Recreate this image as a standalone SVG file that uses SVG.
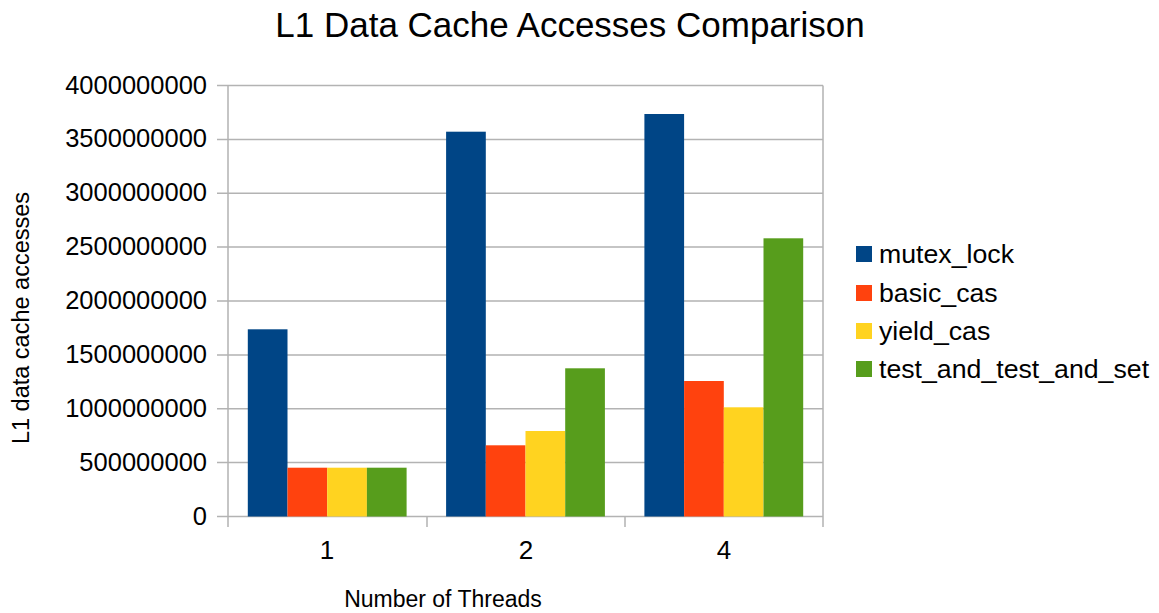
<svg xmlns="http://www.w3.org/2000/svg" width="1159" height="613" viewBox="0 0 1159 613">
<style>
text{font-family:"Liberation Sans",Arial,sans-serif;fill:#000}
.grid{stroke:#b3b3b3;stroke-width:1.5;fill:none}
.ytl{font-size:25.5px;text-anchor:end}
.xtl{font-size:26px;text-anchor:middle}
.leg{font-size:26.7px}
.m{fill:#004586}.b{fill:#ff420e}.y{fill:#ffd320}.g{fill:#579d1c}
</style>
<rect width="1159" height="613" fill="#fff"/>
<text x="570" y="37" font-size="35" text-anchor="middle">L1 Data Cache Accesses Comparison</text>
<g id="grid">
<path class="grid" d="M217 85.5H823M217 139.4H823M217 193.3H823M217 247.1H823M217 301H823M217 354.9H823M217 408.8H823M217 462.6H823M217 516.5H823"/>
<path class="grid" d="M228 85.5V527M823 85.5V527M427 516.5V527M625 516.5V527"/>
</g>
<g id="yticks">
<text class="ytl" x="207" y="93.5">4000000000</text>
<text class="ytl" x="207" y="147.4">3500000000</text>
<text class="ytl" x="207" y="201.3">3000000000</text>
<text class="ytl" x="207" y="255.1">2500000000</text>
<text class="ytl" x="207" y="309">2000000000</text>
<text class="ytl" x="207" y="362.9">1500000000</text>
<text class="ytl" x="207" y="416.8">1000000000</text>
<text class="ytl" x="207" y="470.6">500000000</text>
<text class="ytl" x="207" y="524.5">0</text>
</g>
<g id="bars">
<rect class="m" x="247.8" y="329.3" width="39.7" height="187.2"/>
<rect class="b" x="287.5" y="467.7" width="39.7" height="48.8"/>
<rect class="y" x="327.2" y="467.7" width="39.7" height="48.8"/>
<rect class="g" x="366.9" y="467.7" width="39.7" height="48.8"/>
<rect class="m" x="446.1" y="131.7" width="39.7" height="384.8"/>
<rect class="b" x="485.8" y="445.3" width="39.7" height="71.2"/>
<rect class="y" x="525.5" y="431" width="39.7" height="85.5"/>
<rect class="g" x="565.2" y="368.3" width="39.7" height="148.2"/>
<rect class="m" x="644.4" y="114" width="39.7" height="402.5"/>
<rect class="b" x="684.1" y="381" width="39.7" height="135.5"/>
<rect class="y" x="723.8" y="407.3" width="39.7" height="109.2"/>
<rect class="g" x="763.5" y="238.3" width="39.7" height="278.2"/>
</g>
<g id="xticks">
<text class="xtl" x="327" y="559">1</text>
<text class="xtl" x="526" y="559">2</text>
<text class="xtl" x="724" y="559">4</text>
</g>
<text x="443" y="607" font-size="23" text-anchor="middle">Number of Threads</text>
<text transform="translate(29 318) rotate(-90)" font-size="23.5" text-anchor="middle">L1 data cache accesses</text>
<g id="legend">
<rect class="m" x="856" y="246" width="16" height="16"/>
<text class="leg" x="879" y="263">mutex_lock</text>
<rect class="b" x="856" y="285" width="16" height="16"/>
<text class="leg" x="879" y="302">basic_cas</text>
<rect class="y" x="856" y="323" width="16" height="16"/>
<text class="leg" x="879" y="340">yield_cas</text>
<rect class="g" x="856" y="361" width="16" height="16"/>
<text class="leg" x="879" y="378">test_and_test_and_set</text>
</g>
</svg>
